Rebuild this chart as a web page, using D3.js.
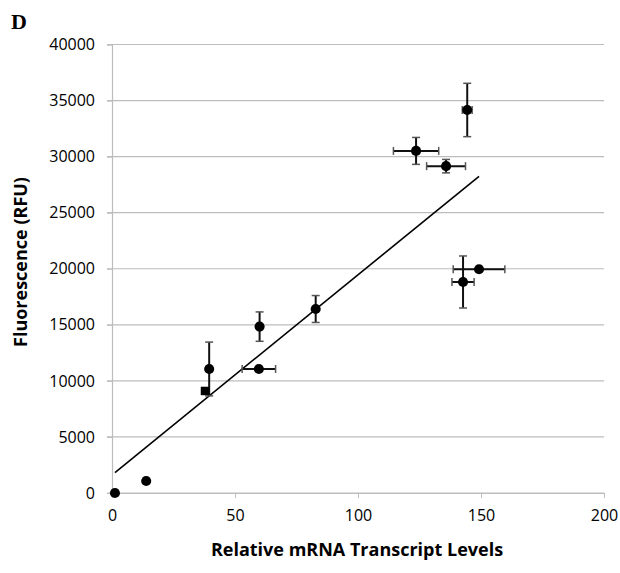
<!DOCTYPE html>
<html>
<head>
<meta charset="utf-8">
<script src="https://cdn.jsdelivr.net/npm/d3@7"></script>
<style>
  body { margin: 0; background: #fff; }
  text { font-family: "Open Sans", sans-serif; }
</style>
</head>
<body>
<script>
// values
var xVals = [1.2, 13.9, 37.8, 39.5, 59.7, 60.0, 82.8, 123.6, 135.8, 144.4, 149.2, 142.7];
var yVals = [0, 1070, 9100, 11060, 11060, 14840, 16410, 30510, 29150, 34160, 19960, 18820];
var xErr  = [0, 0, 0, 0, 6.8, 0.6, 0, 9.2, 7.9, 2, 10.5, 4.5];
var yErr  = [0, 0, 0, 2400, 0, 1310, 1200, 1200, 600, 2380, 0, 2320];
var xTicks = [0, 50, 100, 150, 200];
var yTicks = [0, 5000, 10000, 15000, 20000, 25000, 30000, 35000, 40000];
// linear trend line (intercept, slope)
var trend = [1600, 178.6];

var margin = {top: 44.5, right: 16, bottom: 80, left: 112},
    width = 620 - margin.left - margin.right,
    height = 573 - margin.top - margin.bottom;

var svg = d3.select("body").append("svg")
    .attr("width", 620)
    .attr("height", 573);

var g = svg.append("g")
    .attr("transform", "translate(" + margin.left + "," + margin.top + ")");

var x = d3.scaleLinear().domain([0, 200]).range([0, width]);
var y = d3.scaleLinear().domain([0, 40000]).range([height, 0]);

// gridlines
g.append("g")
    .selectAll("line")
    .data(yTicks)
  .enter().append("line")
    .attr("x1", -5).attr("x2", width)
    .attr("y1", function(d) { return y(d); })
    .attr("y2", function(d) { return y(d); })
    .attr("stroke", "#bdbdbd")
    .attr("stroke-width", 1.2);

// y axis
var yAxis = g.append("g")
    .call(d3.axisLeft(y).tickValues(yTicks).tickSize(5).tickPadding(12).tickFormat(d3.format("d")));
yAxis.select(".domain").attr("stroke", "#bdbdbd").attr("stroke-width", 1.2);
yAxis.selectAll(".tick line").attr("stroke", "#bdbdbd");
yAxis.selectAll("text").attr("font-size", 16).attr("fill", "#000");

// x axis
var xAxis = g.append("g")
    .attr("transform", "translate(0," + height + ")")
    .call(d3.axisBottom(x).tickValues(xTicks).tickSize(5).tickSizeOuter(0).tickPadding(12));
xAxis.select(".domain").attr("stroke", "#bdbdbd").attr("stroke-width", 1.2);
xAxis.selectAll(".tick line").attr("stroke", "#bdbdbd");
xAxis.selectAll("text").attr("font-size", 16).attr("fill", "#000");

// trend line over the data range
var ext = d3.extent(xVals);
var line = d3.line()
    .x(function(d) { return x(d); })
    .y(function(d) { return y(trend[0] + trend[1] * d); });
g.append("path")
    .attr("d", line(ext))
    .attr("fill", "none")
    .attr("stroke", "#000")
    .attr("stroke-width", 1.6);

var idx = d3.range(xVals.length);
var cap = 4;

// vertical error bars
var ye = g.append("g").selectAll("g")
    .data(idx.filter(function(i) { return yErr[i] > 0; }))
  .enter().append("g");
ye.append("line")
    .attr("x1", function(i) { return x(xVals[i]); })
    .attr("x2", function(i) { return x(xVals[i]); })
    .attr("y1", function(i) { return y(yVals[i] + yErr[i]); })
    .attr("y2", function(i) { return y(yVals[i] - yErr[i]); })
    .attr("stroke", "#111").attr("stroke-width", 2);
[1, -1].forEach(function(s) {
  ye.append("line")
      .attr("x1", function(i) { return x(xVals[i]) - cap; })
      .attr("x2", function(i) { return x(xVals[i]) + cap; })
      .attr("y1", function(i) { return y(yVals[i] + s * yErr[i]); })
      .attr("y2", function(i) { return y(yVals[i] + s * yErr[i]); })
      .attr("stroke", "#555").attr("stroke-width", 1.5);
});

// horizontal error bars
var xe = g.append("g").selectAll("g")
    .data(idx.filter(function(i) { return xErr[i] > 0; }))
  .enter().append("g");
xe.append("line")
    .attr("x1", function(i) { return x(xVals[i] - xErr[i]); })
    .attr("x2", function(i) { return x(xVals[i] + xErr[i]); })
    .attr("y1", function(i) { return y(yVals[i]); })
    .attr("y2", function(i) { return y(yVals[i]); })
    .attr("stroke", "#111").attr("stroke-width", 2);
[1, -1].forEach(function(s) {
  xe.append("line")
      .attr("x1", function(i) { return x(xVals[i] + s * xErr[i]); })
      .attr("x2", function(i) { return x(xVals[i] + s * xErr[i]); })
      .attr("y1", function(i) { return y(yVals[i]) - cap; })
      .attr("y2", function(i) { return y(yVals[i]) + cap; })
      .attr("stroke", "#555").attr("stroke-width", 1.5);
});

// markers (the one at ~38 shows as a square in the original)
g.append("g").selectAll("path")
    .data(idx)
  .enter().append("path")
    .attr("transform", function(i) { return "translate(" + x(xVals[i]) + "," + y(yVals[i]) + ")"; })
    .attr("d", function(i) {
      return d3.symbol().type(i === 2 ? d3.symbolSquare : d3.symbolCircle).size(i === 2 ? 72 : 80)();
    })
    .attr("fill", "#000");

// titles
svg.append("text")
    .attr("x", 357).attr("y", 556)
    .attr("text-anchor", "middle")
    .attr("font-size", 18).attr("font-weight", "bold")
    .text("Relative mRNA Transcript Levels");

svg.append("text")
    .attr("transform", "translate(27,262) rotate(-90)")
    .attr("text-anchor", "middle")
    .attr("font-size", 18).attr("font-weight", "bold")
    .text("Fluorescence (RFU)");

svg.append("text")
    .attr("x", 11).attr("y", 29)
    .style("font-family", "'Liberation Serif', 'DejaVu Serif', serif")
    .attr("font-size", 22).attr("font-weight", "bold")
    .text("D");
</script>
</body>
</html>
